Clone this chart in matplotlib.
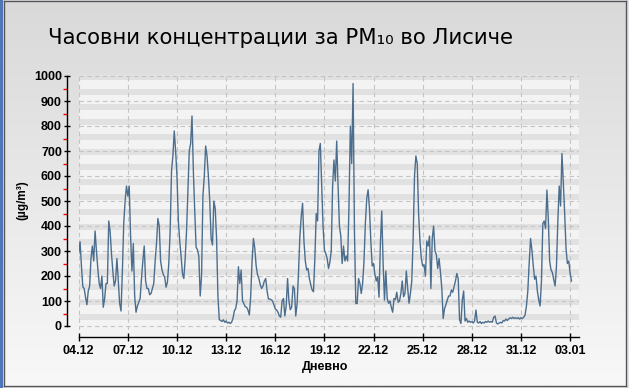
import matplotlib
matplotlib.use("Agg")
import matplotlib.pyplot as plt
import numpy as np
import pandas as pd

# hourly PM10 at Lisiche, every 2 hours
start = "2011-12-04"
step = "2h"
pm10 = [
    290, 337, 240, 157, 150, 115, 85, 140, 160, 270, 320, 260,   # 04.12
    380, 300, 230, 170, 150, 200, 75, 110, 170, 170, 420, 380,   # 05.12
    290, 220, 160, 180, 270, 180, 90, 60, 220, 410, 500, 560,    # 06.12
    520, 560, 360, 220, 330, 120, 55, 80, 95, 110, 190, 260,     # 07.12
    320, 180, 150, 150, 125, 130, 150, 170, 260, 330, 430, 400,  # 08.12
    260, 225, 205, 195, 155, 175, 250, 380, 620, 680, 780, 700,  # 09.12
    600, 420, 340, 280, 210, 190, 270, 380, 540, 700, 730, 840,  # 10.12
    620, 460, 315, 305, 280, 120, 200, 520, 600, 720, 680, 600,  # 11.12
    500, 350, 324, 500, 470, 350, 117, 25, 22, 18, 25, 15,       # 12.12
    20, 12, 15, 10, 15, 30, 60, 70, 100, 237, 170, 224,          # 13.12
    100, 90, 77, 75, 64, 44, 120, 260, 350, 310, 240, 205,       # 14.12
    190, 165, 150, 160, 180, 190, 140, 108, 108, 105, 100, 85,   # 15.12
    68, 64, 55, 40, 35, 100, 110, 40, 80, 190, 100, 65,          # 16.12
    75, 160, 150, 40, 90, 210, 357, 437, 491, 340, 260, 224,     # 17.12
    230, 190, 165, 144, 137, 270, 450, 420, 700, 730, 560, 400,  # 18.12
    304, 290, 270, 230, 255, 300, 560, 664, 580, 740, 560, 400,  # 19.12
    360, 250, 320, 260, 280, 260, 480, 800, 650, 970, 380, 90,   # 20.12
    90, 190, 170, 130, 171, 260, 410, 510, 545, 470, 340, 240,   # 21.12
    250, 205, 180, 197, 115, 330, 460, 250, 104, 220, 110, 91,   # 22.12
    100, 75, 55, 110, 105, 135, 95, 100, 130, 180, 117, 130,     # 23.12
    220, 150, 91, 130, 180, 350, 600, 680, 650, 450, 340, 270,   # 24.12
    240, 245, 200, 340, 320, 360, 150, 350, 400, 300, 285, 230,  # 25.12
    270, 215, 150, 30, 70, 85, 104, 120, 120, 144, 135, 157,     # 26.12
    180, 210, 190, 25, 10, 104, 140, 20, 30, 15, 20, 15,         # 27.12
    18, 12, 20, 64, 15, 12, 18, 10, 15, 12, 18, 15,              # 28.12
    20, 15, 18, 15, 35, 40, 12, 8, 12, 15, 12, 22,               # 29.12
    20, 28, 22, 28, 33, 30, 35, 30, 33, 30, 33, 28,              # 30.12
    33, 30, 35, 44, 80, 140, 251, 350, 304, 240, 187, 200,       # 31.12
    140, 105, 80, 180, 410, 420, 390, 544, 430, 260, 224, 214,   # 01.01
    185, 160, 240, 420, 560, 480, 690, 575, 450, 310, 250, 260,  # 02.01
    210, 180,                                                    # 03.01
]
tick_labels = ["04.12", "07.12", "10.12", "13.12", "16.12", "19.12",
               "22.12", "25.12", "28.12", "31.12", "03.01"]
y_ticks = list(range(0, 1001, 100))

times = pd.date_range(start, periods=len(pm10), freq=step)
tick_dates = pd.date_range(start, periods=len(tick_labels), freq="3D")

W, H = 629, 388
fig = plt.figure(figsize=(W / 100, H / 100), dpi=100)
fig.patch.set_facecolor("#dfe3ea")
# blue strip at the left edge of the screenshot
fig.add_artist(plt.Rectangle((0, 0), 3.5 / W, 1, transform=fig.transFigure,
                             color="#4f77b8", lw=0))

# panel background with a soft vertical gradient and a dark frame
bg = fig.add_axes([4 / W, 2 / H, 622 / W, 385.5 / H])
grad = np.linspace(0, 1, 256).reshape(-1, 1)
bg.imshow(grad, aspect="auto", extent=[0, 1, 0, 1], origin="lower",
          cmap=matplotlib.colors.LinearSegmentedColormap.from_list("g", ["#f8f8f8", "#d9d9d9"]))
bg.set_xticks([])
bg.set_yticks([])
for s in bg.spines.values():
    s.set_color("#555555")
    s.set_linewidth(1)

ax = fig.add_axes([78.7 / W, 1 - 330 / H, (579 - 78.7) / W, 256.5 / H])
ax.set_facecolor("#f3f3f3")
ax.set_ylim(-16, 1010)
ax.set_xlim(times[0], times[0] + pd.Timedelta(hours=733))

# striped plot background
for y0 in range(24, 1010, 60):
    ax.axhspan(y0, min(y0 + 24, 1010), color="#e1e1e1", lw=0, zorder=0)

for v in y_ticks:
    ax.axhline(v, color="#c4c4c4", ls=(0, (4, 3)), lw=0.8, zorder=1)
for d in tick_dates:
    ax.axvline(d, color="#c4c4c4", ls=(0, (4, 3)), lw=0.8, zorder=1)

ax.plot(times, pm10, color="#4c6e8e", lw=1.0, zorder=3)

for side in ["top", "right"]:
    ax.spines[side].set_visible(False)
ax.spines["left"].set_position(("outward", 8.6))
ax.spines["left"].set_bounds(0, 1000)
ax.spines["bottom"].set_position(("outward", 4.8))
for side in ["left", "bottom"]:
    ax.spines[side].set_linewidth(1)
    ax.spines[side].set_color("black")

lab_font = dict(family="Liberation Sans", weight="bold", size=9)

ax.set_yticks(y_ticks)
ax.set_yticklabels([str(v) for v in y_ticks], fontdict=lab_font)
ax.set_yticks(range(50, 1000, 100), minor=True)
ax.tick_params(axis="y", which="major", direction="inout", length=5, width=1, pad=1)
ax.tick_params(axis="y", which="minor", direction="out", length=3, width=1, color="red")

ax.set_xticks(tick_dates)
ax.set_xticklabels(tick_labels, fontdict=lab_font)
ax.tick_params(axis="x", which="major", direction="inout", length=6, width=1, pad=3)
ax.tick_params(axis="x", which="minor", length=0)

fig.text(48 / W, 1 - 38 / H, "Часовни концентрации за PM₁₀ во Лисиче",
         ha="left", va="center", fontsize=15.3, family="DejaVu Sans")
fig.text(22 / W, 1 - 200 / H, "(µg/m³)", rotation=90, ha="center", va="center",
         family="Liberation Sans", weight="bold", size=8.5)
fig.text(325 / W, 1 - 367 / H, "Дневно", ha="center", va="center", **lab_font)

fig.savefig("out.png", dpi=100)
